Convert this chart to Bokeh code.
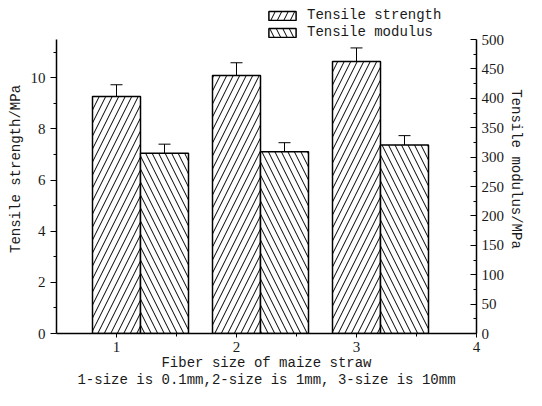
from bokeh.plotting import figure
from bokeh.models import (Range1d, LinearAxis, FixedTicker, Whisker, TeeHead,
                          ColumnDataSource, Legend, LegendItem)
from bokeh.embed import file_html
from bokeh.resources import INLINE

# ---- data ----
sizes = [1, 2, 3]
strength = [9.27, 10.09, 10.64]          # MPa (left axis)
strength_err = [0.46, 0.50, 0.53]
modulus = [306.5, 309.0, 320.5]          # MPa (right axis)
modulus_err = [15.5, 15.5, 16.0]
x_ticks = [1, 2, 3, 4]
x_minor = [1.5, 2.5, 3.5]
left_ticks = [0, 2, 4, 6, 8, 10]
left_minor = [1, 3, 5, 7, 9, 11]
right_ticks = [0, 50, 100, 150, 200, 250, 300, 350, 400, 450, 500]
right_minor = [25, 75, 125, 175, 225, 275, 325, 375, 425, 475]
left_max = 11.5
right_max = 500

BAR_W = 0.4
MOD_SHIFT = 0.4

LABEL_FONT = "Liberation Mono"
TICK_FONT = "Liberation Serif"
TXT = "#1a1a1a"

# layout (pixels)
TOP = 4            # frame top (room for legend inside frame)
AXIS_TOP = 39      # where the axes end
FRAME_W = 420
FRAME_H = 329
head = (FRAME_H) / (FRAME_H - (AXIS_TOP - TOP))   # range stretch so axes end at AXIS_TOP

src_s = ColumnDataSource(dict(
    x=sizes, top=strength,
    lo=[v - e for v, e in zip(strength, strength_err)],
    hi=[v + e for v, e in zip(strength, strength_err)]))
src_m = ColumnDataSource(dict(
    x=[s + MOD_SHIFT for s in sizes], top=modulus,
    lo=[v - e for v, e in zip(modulus, modulus_err)],
    hi=[v + e for v, e in zip(modulus, modulus_err)]))

p = figure(frame_width=FRAME_W, frame_height=FRAME_H,
           output_backend="svg", toolbar_location=None,
           x_range=Range1d(0.5, 4), y_range=Range1d(0, left_max * head),
           min_border_left=56, min_border_right=50, min_border_top=TOP,
           min_border_bottom=57)
p.extra_y_ranges = {"mod": Range1d(0, right_max * head)}
p.outline_line_color = None
p.xgrid.visible = False
p.ygrid.visible = False
p.background_fill_color = "white"

r1 = p.vbar(x="x", top="top", width=BAR_W, source=src_s, fill_color="white",
            line_color="black", line_width=1.5, hatch_pattern="/",
            hatch_color="black", hatch_scale=13, hatch_weight=1)
r2 = p.vbar(x="x", top="top", width=BAR_W, source=src_m, fill_color="white",
            line_color="black", line_width=1.5, hatch_pattern="\\",
            hatch_color="black", hatch_scale=13, hatch_weight=1,
            y_range_name="mod")

w1 = Whisker(base="x", lower="lo", upper="hi", source=src_s,
             line_color="black", line_width=1,
             upper_head=TeeHead(size=12, line_color="black", line_width=1),
             lower_head=TeeHead(size=12, line_color="black", line_width=1))
w2 = Whisker(base="x", lower="lo", upper="hi", source=src_m, y_range_name="mod",
             line_color="black", line_width=1,
             upper_head=TeeHead(size=12, line_color="black", line_width=1),
             lower_head=TeeHead(size=12, line_color="black", line_width=1))
p.add_layout(w1)
p.add_layout(w2)


def style(ax):
    ax.axis_line_color = "black"
    ax.axis_line_width = 1.5
    ax.major_tick_line_color = "black"
    ax.minor_tick_line_color = "black"
    ax.major_label_text_font = TICK_FONT
    ax.major_label_text_font_size = "15px"
    ax.major_label_text_color = TXT
    ax.axis_label_text_font = LABEL_FONT
    ax.axis_label_text_font_size = "14px"
    ax.axis_label_text_font_style = "normal"
    ax.axis_label_text_color = TXT


# x axis
xa = p.xaxis[0]
xa.ticker = FixedTicker(ticks=x_ticks, minor_ticks=x_minor)
style(xa)
xa.major_tick_out = 4
xa.major_tick_in = 0
xa.minor_tick_out = 3
xa.minor_tick_in = 0
xa.major_label_standoff = 4
xa.axis_label = "Fiber size of maize straw\n1-size is 0.1mm,2-size is 1mm, 3-size is 10mm"
xa.axis_label_standoff = 0
xa.axis_label_text_line_height = 1.1

# left axis
ya = p.yaxis[0]
ya.ticker = FixedTicker(ticks=left_ticks, minor_ticks=left_minor)
ya.bounds = (0, left_max)
style(ya)
ya.major_tick_out = 6
ya.major_tick_in = 0
ya.minor_tick_out = 3
ya.minor_tick_in = 0
ya.major_label_standoff = 5
ya.axis_label = "Tensile strength/MPa"
ya.axis_label_standoff = 4

# right axis
ra = LinearAxis(y_range_name="mod", bounds=(0, right_max),
                ticker=FixedTicker(ticks=right_ticks, minor_ticks=right_minor))
style(ra)
ra.major_tick_out = 0
ra.major_tick_in = 6
ra.minor_tick_out = 0
ra.minor_tick_in = 3
ra.major_label_standoff = 5
ra.axis_label = "Tensile modulus/MPa"
ra.axis_label_standoff = 1
p.add_layout(ra, "right")

legend = Legend(items=[LegendItem(label="Tensile strength", renderers=[r1]),
                       LegendItem(label="Tensile modulus", renderers=[r2])],
                location=(209, FRAME_H - 36.5), orientation="vertical",
                glyph_width=34, glyph_height=11, label_height=17,
                label_standoff=8, spacing=0, padding=0, margin=0,
                border_line_color=None, background_fill_alpha=0,
                label_text_font=LABEL_FONT, label_text_font_size="14px",
                label_text_color=TXT)
p.add_layout(legend, "center")

open("out.html", "w").write(file_html(p, INLINE))
